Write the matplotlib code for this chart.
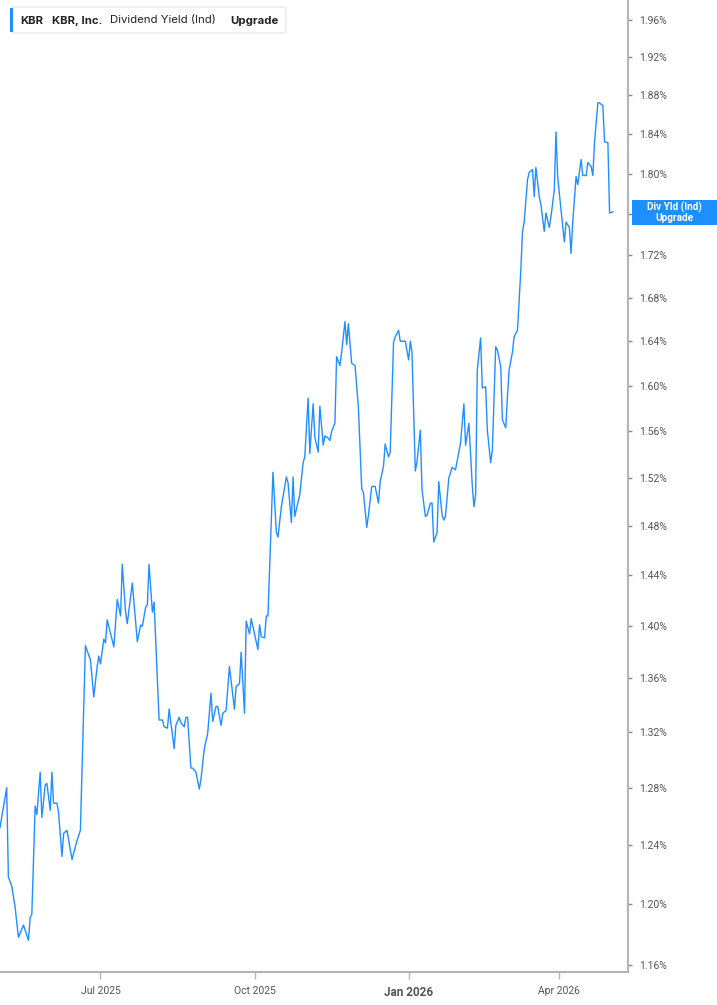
"""KBR dividend yield (indicated) — one-year line chart, log y axis on the right."""

import datetime as dt

import matplotlib
matplotlib.use("Agg")
import matplotlib.dates as mdates
import matplotlib.pyplot as plt
import matplotlib.ticker as mticker
from matplotlib.patches import FancyBboxPatch, Rectangle

START = dt.date(2025, 5, 2)

# calendar days after START, and the indicated dividend yield (%) on that day
DAYS = [
    0, 4, 5, 7, 9, 11, 14, 17, 18, 19, 21, 22, 24, 25, 27, 28, 30, 31, 32, 34,
    35, 37, 38, 40, 43, 46, 48, 51, 54, 56, 58, 59, 60, 62, 63, 64, 68, 70, 72, 73,
    75, 76, 79, 81, 82, 84, 85, 87, 88, 89, 91, 92, 95, 97, 98, 100, 101, 104, 105, 107,
    108, 110, 111, 112, 114, 115, 117, 119, 120, 122, 124, 126, 127, 129, 130, 132, 133, 135, 137, 140,
    141, 143, 144, 146, 147, 149, 150, 154, 155, 156, 158, 159, 160, 163, 165, 166, 168, 171, 172, 174,
    175, 176, 179, 181, 182, 184, 185, 187, 188, 190, 191, 193, 194, 196, 197, 198, 200, 201, 203, 204,
    206, 207, 208, 210, 212, 213, 214, 216, 217, 219, 220, 222, 224, 226, 227, 229, 230, 232, 233, 235,
    236, 238, 239, 241, 242, 244, 245, 246, 248, 249, 251, 252, 254, 255, 257, 258, 259, 261, 262, 264,
    265, 266, 268, 270, 272, 274, 275, 277, 278, 280, 282, 283, 284, 285, 287, 288, 290, 291, 293, 294,
    296, 297, 299, 300, 302, 303, 304, 306, 307, 309, 311, 312, 313, 315, 316, 318, 319, 320, 322, 323,
    325, 326, 328, 329, 331, 332, 333, 335, 337, 338, 340, 341, 342, 344, 345, 347, 348, 350, 351, 353,
    354, 355, 357, 358, 360, 361, 363, 364, 366,
]
YIELD = [
    1.252, 1.280, 1.218, 1.212, 1.198, 1.178, 1.186, 1.176, 1.191, 1.193, 1.267, 1.261, 1.291, 1.259, 1.282, 1.283, 1.264, 1.291, 1.269, 1.269,
    1.262, 1.232, 1.248, 1.250, 1.230, 1.243, 1.250, 1.385, 1.374, 1.346, 1.369, 1.377, 1.371, 1.390, 1.387, 1.405, 1.384, 1.421, 1.408, 1.449,
    1.411, 1.402, 1.434, 1.403, 1.388, 1.401, 1.400, 1.415, 1.417, 1.449, 1.411, 1.419, 1.329, 1.329, 1.324, 1.323, 1.337, 1.308, 1.325, 1.331,
    1.327, 1.324, 1.331, 1.331, 1.294, 1.294, 1.291, 1.279, 1.286, 1.308, 1.319, 1.349, 1.328, 1.339, 1.339, 1.325, 1.334, 1.336, 1.369, 1.337,
    1.354, 1.356, 1.380, 1.334, 1.404, 1.394, 1.406, 1.382, 1.401, 1.392, 1.391, 1.408, 1.408, 1.525, 1.475, 1.471, 1.496, 1.521, 1.516, 1.483,
    1.521, 1.488, 1.506, 1.533, 1.538, 1.589, 1.541, 1.584, 1.555, 1.542, 1.582, 1.548, 1.556, 1.554, 1.552, 1.560, 1.567, 1.626, 1.618, 1.630,
    1.658, 1.637, 1.656, 1.620, 1.618, 1.599, 1.581, 1.511, 1.508, 1.479, 1.489, 1.513, 1.513, 1.499, 1.517, 1.530, 1.549, 1.538, 1.542, 1.639,
    1.644, 1.650, 1.640, 1.640, 1.640, 1.623, 1.640, 1.630, 1.526, 1.534, 1.561, 1.510, 1.488, 1.489, 1.499, 1.499, 1.467, 1.475, 1.517, 1.489,
    1.485, 1.488, 1.520, 1.529, 1.527, 1.542, 1.550, 1.584, 1.548, 1.567, 1.514, 1.496, 1.506, 1.614, 1.643, 1.598, 1.599, 1.561, 1.533, 1.544,
    1.635, 1.632, 1.617, 1.570, 1.563, 1.590, 1.614, 1.630, 1.644, 1.650, 1.706, 1.743, 1.752, 1.794, 1.801, 1.804, 1.777, 1.806, 1.777, 1.769,
    1.743, 1.761, 1.747, 1.757, 1.784, 1.842, 1.797, 1.764, 1.733, 1.752, 1.747, 1.722, 1.752, 1.797, 1.789, 1.814, 1.798, 1.798, 1.811, 1.807,
    1.798, 1.831, 1.872, 1.872, 1.869, 1.832, 1.831, 1.761, 1.762,
]

Y_TICKS = [1.16, 1.20, 1.24, 1.28, 1.32, 1.36, 1.40, 1.44, 1.48, 1.52,
           1.56, 1.60, 1.64, 1.68, 1.72, 1.76, 1.80, 1.84, 1.88, 1.92, 1.96]
HIDDEN_TICK = 1.76  # covered by the last-value label in the reference
X_TICKS = [dt.date(2025, 7, 1), dt.date(2025, 10, 1), dt.date(2026, 1, 1), dt.date(2026, 4, 1)]
X_LABELS = ["Jul 2025", "Oct 2025", "Jan 2026", "Apr 2026"]

BLUE = "#1E8FFF"
GREY_AXIS = "#B4B4B4"
GREY_TEXT = "#555555"
W, H = 717, 1005

plt.rcParams["font.family"] = ["Roboto", "DejaVu Sans"]

fig = plt.figure(figsize=(W / 100, H / 100), dpi=100)
ax = fig.add_axes([0, 1 - 972 / H, 628 / W, 972 / H])

dates = [START + dt.timedelta(days=d) for d in DAYS]
ax.plot(dates, YIELD, color=BLUE, lw=1.0, solid_joinstyle="round")

ax.set_yscale("log")
ax.set_ylim(1.1555, 1.982)
ax.set_xlim(START, START + dt.timedelta(days=375.5))

# y axis on the right, percent labels
ax.yaxis.tick_right()
ax.yaxis.set_major_locator(mticker.FixedLocator(Y_TICKS))
ax.yaxis.set_minor_locator(mticker.NullLocator())
ax.yaxis.set_major_formatter(mticker.FuncFormatter(
    lambda v, _: "" if abs(v - HIDDEN_TICK) < 1e-6 else f"{v:.2f}%"))
ax.tick_params(axis="y", which="major", direction="out", length=3, width=1,
               color="#888888", labelsize=7.5, labelcolor=GREY_TEXT, pad=5)

ax.set_xticks(X_TICKS)
ax.set_xticklabels(X_LABELS)
ax.tick_params(axis="x", direction="out", length=5, width=1, color=GREY_AXIS,
               labelsize=7.5, labelcolor=GREY_TEXT, pad=5)
for lbl in ax.get_xticklabels():
    if lbl.get_text().startswith("Jan"):
        lbl.set_fontweight("bold")
        lbl.set_fontsize(8.5)

for side in ("left", "top"):
    ax.spines[side].set_visible(False)
for side in ("right", "bottom"):
    ax.spines[side].set_color(GREY_AXIS)
    ax.spines[side].set_linewidth(1.5)

# legend chip, top-left
def fx(px):
    return px / W


def fy(py):
    return 1 - py / H


chip = FancyBboxPatch((fx(11), fy(33)), fx(275), 26 / H, transform=fig.transFigure,
                      boxstyle="round,pad=0,rounding_size=0.004", facecolor="white",
                      edgecolor="#E3E3E3", lw=0.8, zorder=5)
fig.patches.append(chip)
fig.patches.append(Rectangle((fx(10), fy(32)), fx(3), 24 / H, transform=fig.transFigure,
                             facecolor=BLUE, edgecolor="none", zorder=6))
for x, txt, wt in [(20, "KBR", "bold"), (52, "KBR, Inc.", "bold"),
                   (110, "Dividend Yield (Ind)", "normal"), (230, "Upgrade", "bold")]:
    fig.text(fx(x), fy(20.5), txt, ha="left", va="center", fontsize=8.2,
             fontweight=wt, color="#222222", family=["Inter", "DejaVu Sans"], zorder=7)

# last-value label on the right axis
fig.patches.append(Rectangle((fx(632), fy(225)), fx(85), 25 / H, transform=fig.transFigure,
                             facecolor=BLUE, edgecolor="none", zorder=8))
fig.text(fx(674), fy(207), "Div Yld (Ind)", ha="center", va="center", fontsize=7.2,
         fontweight="bold", color="white", zorder=9)
fig.text(fx(674), fy(218), "Upgrade", ha="center", va="center", fontsize=7.2,
         fontweight="bold", color="white", zorder=9)

fig.savefig("out.png", dpi=100, facecolor="white")
plt.close(fig)
